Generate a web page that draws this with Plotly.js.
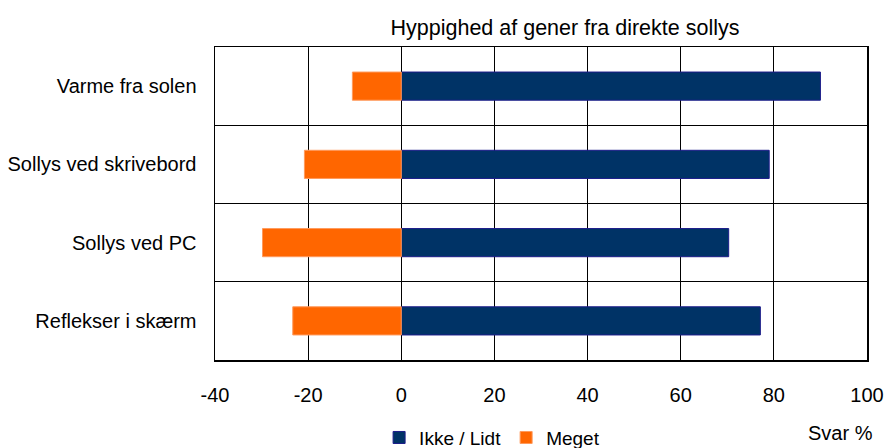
<!DOCTYPE html>
<html>
<head>
<meta charset="utf-8">
<script src="https://cdn.plot.ly/plotly-3.0.1.min.js"></script>
<style>html,body{margin:0;padding:0;background:#fff}#chart{width:884px;height:448px}</style>
</head>
<body>
<div id="chart"></div>
<script>
const categories = ['Varme fra solen', 'Sollys ved skrivebord', 'Sollys ved PC', 'Reflekser i skærm'];
const ikkeLidt = [90, 79, 70.3, 77.1];
const meget = [-10.5, -20.8, -29.8, -23.3];
const xTicks = [-40, -20, 0, 20, 40, 60, 80, 100];
const seriesNames = ['Ikke / Lidt', 'Meget'];

const F = 'Liberation Sans, Arial, sans-serif';
const data = [
  {type: 'bar', orientation: 'h', name: seriesNames[0], y: categories, x: ikkeLidt,
   marker: {color: '#003366', line: {color: '#1c1c8a', width: 1}}},
  {type: 'bar', orientation: 'h', name: seriesNames[1], y: categories, x: meget,
   marker: {color: '#ff6600', line: {color: '#ff9a5c', width: 1}}}
];
const layout = {
  width: 884, height: 448,
  margin: {l: 215, r: 17, t: 47, b: 88, pad: 0, autoexpand: false},
  paper_bgcolor: '#fff', plot_bgcolor: '#fff',
  font: {family: F, size: 20, color: '#000'},
  barmode: 'relative', bargap: 0.64,
  title: {text: 'Hyppighed af gener fra direkte sollys', font: {family: F, size: 21.5, color: '#000'},
          x: 565/884, xref: 'container', xanchor: 'center', y: 1 - 27/448, yref: 'container', yanchor: 'middle'},
  xaxis: {range: [-40, 100], tickvals: xTicks, ticktext: xTicks.map(String), ticks: '',
          showgrid: true, gridcolor: '#000', gridwidth: 1, zeroline: true, zerolinecolor: '#000', zerolinewidth: 1,
          showline: true, linecolor: '#000', linewidth: 1.5, mirror: true, ticklabelstandoff: 16,
          tickfont: {family: F, size: 20, color: '#000'}, fixedrange: true, automargin: false},
  yaxis: {type: 'category', categoryorder: 'array', categoryarray: categories, autorange: 'reversed',
          tickson: 'boundaries', ticks: '', showgrid: true, gridcolor: '#000', gridwidth: 1,
          showline: true, linecolor: '#000', linewidth: 1.5, mirror: true, ticklabelstandoff: 13,
          tickfont: {family: F, size: 20, color: '#000'}, fixedrange: true, automargin: false},
  showlegend: true,
  legend: {orientation: 'h', x: 0.425, xanchor: 'center', y: -0.248, yanchor: 'middle',
           font: {family: F, size: 19, color: '#000'}, traceorder: 'normal', itemwidth: 30},
  annotations: [{text: 'Svar %', xref: 'paper', yref: 'paper', x: 0.96, y: -0.232,
                 xanchor: 'center', yanchor: 'middle', showarrow: false, font: {family: F, size: 20, color: '#000'}}]
};
Plotly.newPlot('chart', data, layout, {displayModeBar: false, staticPlot: true});
</script>
</body>
</html>
